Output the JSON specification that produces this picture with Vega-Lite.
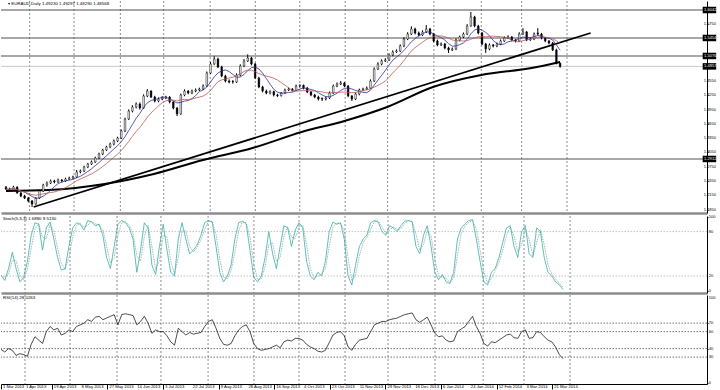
{
"$schema": "https://vega.github.io/schema/vega-lite/v6.json",
"padding": 0,
"background": "#ffffff",
"spacing": 0,
"config": {
  "view": {"stroke": null},
  "font": "Liberation Sans",
  "axis": {"labelFont": "Liberation Sans", "labelFontSize": 4.2, "labelColor": "#000000", "domainColor": "#000000", "tickColor": "#000000", "grid": false, "labelOverlap": false, "labelFlush": false},
  "text": {"font": "Liberation Sans"}
},
"datasets": {
  "px": [
{"i":0,"o":1.2320,"h":1.2345,"l":1.2260,"c":1.2282,"s":21,"r":39},
{"i":2,"o":1.2282,"h":1.2310,"l":1.2230,"c":1.2261,"s":14,"r":36},
{"i":4,"o":1.2261,"h":1.2350,"l":1.2245,"c":1.2323,"s":30,"r":40},
{"i":6,"o":1.2323,"h":1.2335,"l":1.2180,"c":1.2197,"s":52,"r":38},
{"i":8,"o":1.2197,"h":1.2220,"l":1.2110,"c":1.2134,"s":30,"r":32},
{"i":10,"o":1.2134,"h":1.2160,"l":1.2070,"c":1.2092,"s":12,"r":34},
{"i":12,"o":1.2092,"h":1.2115,"l":1.2000,"c":1.2029,"s":18,"r":33},
{"i":14,"o":1.2029,"h":1.2050,"l":1.1905,"c":1.1966,"s":40,"r":31},
{"i":16,"o":1.1966,"h":1.2110,"l":1.1950,"c":1.2092,"s":75,"r":45},
{"i":18,"o":1.2092,"h":1.2265,"l":1.2075,"c":1.2240,"s":92,"r":54},
{"i":20,"o":1.2240,"h":1.2390,"l":1.2220,"c":1.2365,"s":90,"r":50},
{"i":22,"o":1.2365,"h":1.2440,"l":1.2330,"c":1.2407,"s":55,"r":46},
{"i":24,"o":1.2407,"h":1.2480,"l":1.2385,"c":1.2450,"s":85,"r":60},
{"i":26,"o":1.2450,"h":1.2475,"l":1.2400,"c":1.2429,"s":93,"r":66},
{"i":28,"o":1.2429,"h":1.2500,"l":1.2410,"c":1.2471,"s":70,"r":62},
{"i":30,"o":1.2471,"h":1.2490,"l":1.2420,"c":1.2450,"s":45,"r":64},
{"i":32,"o":1.2450,"h":1.2520,"l":1.2430,"c":1.2492,"s":28,"r":56},
{"i":34,"o":1.2492,"h":1.2540,"l":1.2470,"c":1.2513,"s":30,"r":58},
{"i":36,"o":1.2513,"h":1.2560,"l":1.2490,"c":1.2534,"s":60,"r":62},
{"i":38,"o":1.2534,"h":1.2680,"l":1.2515,"c":1.2639,"s":85,"r":60},
{"i":40,"o":1.2639,"h":1.2690,"l":1.2610,"c":1.2660,"s":92,"r":66},
{"i":42,"o":1.2660,"h":1.2770,"l":1.2640,"c":1.2744,"s":90,"r":68},
{"i":44,"o":1.2744,"h":1.2830,"l":1.2720,"c":1.2807,"s":82,"r":70},
{"i":46,"o":1.2807,"h":1.2880,"l":1.2785,"c":1.2849,"s":95,"r":74},
{"i":48,"o":1.2849,"h":1.2960,"l":1.2830,"c":1.2933,"s":93,"r":72},
{"i":50,"o":1.2933,"h":1.3045,"l":1.2910,"c":1.3017,"s":88,"r":77},
{"i":52,"o":1.3017,"h":1.3125,"l":1.2995,"c":1.3101,"s":90,"r":78},
{"i":54,"o":1.3101,"h":1.3190,"l":1.3080,"c":1.3164,"s":75,"r":74},
{"i":56,"o":1.3164,"h":1.3255,"l":1.3140,"c":1.3227,"s":45,"r":76},
{"i":58,"o":1.3227,"h":1.3320,"l":1.3200,"c":1.3290,"s":30,"r":78},
{"i":60,"o":1.3290,"h":1.3380,"l":1.3265,"c":1.3353,"s":60,"r":80},
{"i":62,"o":1.3353,"h":1.3530,"l":1.3330,"c":1.3500,"s":90,"r":68},
{"i":64,"o":1.3500,"h":1.3780,"l":1.3480,"c":1.3752,"s":95,"r":80},
{"i":66,"o":1.3752,"h":1.3955,"l":1.3730,"c":1.3920,"s":92,"r":81},
{"i":68,"o":1.3920,"h":1.4040,"l":1.3890,"c":1.4004,"s":85,"r":80},
{"i":70,"o":1.4004,"h":1.4100,"l":1.3975,"c":1.4067,"s":70,"r":79},
{"i":72,"o":1.4067,"h":1.4100,"l":1.3950,"c":1.3983,"s":25,"r":68},
{"i":74,"o":1.3983,"h":1.4270,"l":1.3965,"c":1.4235,"s":55,"r":72},
{"i":76,"o":1.4235,"h":1.4380,"l":1.4210,"c":1.4340,"s":92,"r":78},
{"i":78,"o":1.4340,"h":1.4355,"l":1.4190,"c":1.4214,"s":85,"r":70},
{"i":80,"o":1.4214,"h":1.4240,"l":1.4100,"c":1.4130,"s":35,"r":58},
{"i":82,"o":1.4130,"h":1.4205,"l":1.4105,"c":1.4172,"s":22,"r":62},
{"i":84,"o":1.4172,"h":1.4230,"l":1.4145,"c":1.4193,"s":60,"r":60},
{"i":86,"o":1.4193,"h":1.4240,"l":1.4170,"c":1.4215,"s":90,"r":60},
{"i":88,"o":1.4215,"h":1.4230,"l":1.4080,"c":1.4109,"s":55,"r":55},
{"i":90,"o":1.4109,"h":1.4125,"l":1.3955,"c":1.3983,"s":25,"r":48},
{"i":92,"o":1.3983,"h":1.4000,"l":1.3815,"c":1.3857,"s":20,"r":44},
{"i":94,"o":1.3857,"h":1.4285,"l":1.3840,"c":1.4256,"s":70,"r":64},
{"i":96,"o":1.4256,"h":1.4375,"l":1.4230,"c":1.4340,"s":92,"r":60},
{"i":98,"o":1.4340,"h":1.4360,"l":1.4270,"c":1.4298,"s":70,"r":56},
{"i":100,"o":1.4298,"h":1.4370,"l":1.4275,"c":1.4340,"s":50,"r":59},
{"i":102,"o":1.4340,"h":1.4395,"l":1.4315,"c":1.4361,"s":55,"r":57},
{"i":104,"o":1.4361,"h":1.4410,"l":1.4340,"c":1.4382,"s":62,"r":58},
{"i":106,"o":1.4382,"h":1.4480,"l":1.4360,"c":1.4445,"s":75,"r":59},
{"i":108,"o":1.4445,"h":1.4750,"l":1.4425,"c":1.4718,"s":92,"r":66},
{"i":110,"o":1.4718,"h":1.4950,"l":1.4700,"c":1.4908,"s":95,"r":72},
{"i":112,"o":1.4908,"h":1.5070,"l":1.4890,"c":1.5013,"s":93,"r":74},
{"i":114,"o":1.5013,"h":1.5040,"l":1.4820,"c":1.4844,"s":60,"r":64},
{"i":116,"o":1.4844,"h":1.4870,"l":1.4630,"c":1.4655,"s":25,"r":52},
{"i":118,"o":1.4655,"h":1.4680,"l":1.4520,"c":1.4550,"s":12,"r":45},
{"i":120,"o":1.4550,"h":1.4585,"l":1.4500,"c":1.4529,"s":20,"r":44},
{"i":122,"o":1.4540,"h":1.4570,"l":1.4495,"c":1.4529,"s":35,"r":46},
{"i":124,"o":1.4529,"h":1.4710,"l":1.4510,"c":1.4676,"s":70,"r":55},
{"i":126,"o":1.4676,"h":1.4900,"l":1.4650,"c":1.4865,"s":92,"r":62},
{"i":128,"o":1.4865,"h":1.5010,"l":1.4840,"c":1.4971,"s":94,"r":66},
{"i":130,"o":1.4971,"h":1.5110,"l":1.4950,"c":1.5034,"s":90,"r":68},
{"i":132,"o":1.5034,"h":1.5060,"l":1.4880,"c":1.4908,"s":55,"r":60},
{"i":134,"o":1.4908,"h":1.4930,"l":1.4590,"c":1.4613,"s":18,"r":46},
{"i":136,"o":1.4613,"h":1.4640,"l":1.4400,"c":1.4424,"s":12,"r":40},
{"i":138,"o":1.4424,"h":1.4450,"l":1.4310,"c":1.4340,"s":20,"r":38},
{"i":140,"o":1.4340,"h":1.4370,"l":1.4270,"c":1.4298,"s":45,"r":39},
{"i":142,"o":1.4298,"h":1.4355,"l":1.4270,"c":1.4330,"s":80,"r":40},
{"i":144,"o":1.4330,"h":1.4345,"l":1.4225,"c":1.4256,"s":50,"r":42},
{"i":146,"o":1.4256,"h":1.4280,"l":1.4215,"c":1.4240,"s":30,"r":44},
{"i":148,"o":1.4240,"h":1.4320,"l":1.4225,"c":1.4298,"s":60,"r":41},
{"i":150,"o":1.4298,"h":1.4390,"l":1.4280,"c":1.4361,"s":88,"r":48},
{"i":152,"o":1.4361,"h":1.4415,"l":1.4340,"c":1.4382,"s":85,"r":50},
{"i":154,"o":1.4382,"h":1.4400,"l":1.4330,"c":1.4350,"s":60,"r":49},
{"i":156,"o":1.4350,"h":1.4475,"l":1.4340,"c":1.4445,"s":82,"r":52},
{"i":158,"o":1.4445,"h":1.4480,"l":1.4410,"c":1.4460,"s":92,"r":52},
{"i":160,"o":1.4460,"h":1.4475,"l":1.4375,"c":1.4403,"s":85,"r":50},
{"i":162,"o":1.4403,"h":1.4425,"l":1.4295,"c":1.4319,"s":40,"r":45},
{"i":164,"o":1.4319,"h":1.4340,"l":1.4230,"c":1.4256,"s":20,"r":42},
{"i":166,"o":1.4256,"h":1.4280,"l":1.4190,"c":1.4214,"s":15,"r":40},
{"i":168,"o":1.4214,"h":1.4240,"l":1.4140,"c":1.4172,"s":25,"r":37},
{"i":170,"o":1.4185,"h":1.4205,"l":1.4130,"c":1.4172,"s":20,"r":36},
{"i":172,"o":1.4172,"h":1.4225,"l":1.4140,"c":1.4193,"s":40,"r":38},
{"i":174,"o":1.4193,"h":1.4330,"l":1.4170,"c":1.4298,"s":80,"r":47},
{"i":176,"o":1.4298,"h":1.4475,"l":1.4280,"c":1.4445,"s":93,"r":56},
{"i":178,"o":1.4445,"h":1.4520,"l":1.4420,"c":1.4487,"s":90,"r":59},
{"i":180,"o":1.4487,"h":1.4550,"l":1.4465,"c":1.4508,"s":92,"r":60},
{"i":182,"o":1.4508,"h":1.4530,"l":1.4420,"c":1.4445,"s":70,"r":55},
{"i":184,"o":1.4445,"h":1.4465,"l":1.4210,"c":1.4235,"s":20,"r":42},
{"i":186,"o":1.4235,"h":1.4255,"l":1.4130,"c":1.4172,"s":8,"r":38},
{"i":188,"o":1.4172,"h":1.4305,"l":1.4150,"c":1.4277,"s":35,"r":45},
{"i":190,"o":1.4277,"h":1.4390,"l":1.4250,"c":1.4361,"s":60,"r":50},
{"i":192,"o":1.4361,"h":1.4410,"l":1.4340,"c":1.4382,"s":70,"r":51},
{"i":194,"o":1.4382,"h":1.4435,"l":1.4360,"c":1.4403,"s":75,"r":52},
{"i":196,"o":1.4403,"h":1.4585,"l":1.4385,"c":1.4550,"s":92,"r":60},
{"i":198,"o":1.4550,"h":1.4835,"l":1.4530,"c":1.4802,"s":95,"r":68},
{"i":200,"o":1.4802,"h":1.4945,"l":1.4780,"c":1.4908,"s":93,"r":70},
{"i":202,"o":1.4908,"h":1.5005,"l":1.4880,"c":1.4971,"s":80,"r":72},
{"i":204,"o":1.4971,"h":1.5030,"l":1.4950,"c":1.4992,"s":75,"r":72},
{"i":206,"o":1.4992,"h":1.5130,"l":1.4970,"c":1.5097,"s":88,"r":74},
{"i":208,"o":1.5097,"h":1.5195,"l":1.5070,"c":1.5160,"s":85,"r":75},
{"i":210,"o":1.5160,"h":1.5215,"l":1.5140,"c":1.5181,"s":80,"r":76},
{"i":212,"o":1.5181,"h":1.5320,"l":1.5160,"c":1.5286,"s":88,"r":78},
{"i":214,"o":1.5286,"h":1.5470,"l":1.5260,"c":1.5433,"s":94,"r":80},
{"i":216,"o":1.5433,"h":1.5575,"l":1.5410,"c":1.5538,"s":95,"r":81},
{"i":218,"o":1.5538,"h":1.5700,"l":1.5515,"c":1.5643,"s":93,"r":82},
{"i":220,"o":1.5643,"h":1.5670,"l":1.5530,"c":1.5559,"s":60,"r":74},
{"i":222,"o":1.5559,"h":1.5590,"l":1.5490,"c":1.5517,"s":50,"r":71},
{"i":224,"o":1.5517,"h":1.5615,"l":1.5495,"c":1.5580,"s":75,"r":74},
{"i":226,"o":1.5580,"h":1.5725,"l":1.5560,"c":1.5643,"s":88,"r":77},
{"i":228,"o":1.5643,"h":1.5665,"l":1.5510,"c":1.5538,"s":60,"r":68},
{"i":230,"o":1.5538,"h":1.5560,"l":1.5365,"c":1.5391,"s":25,"r":58},
{"i":232,"o":1.5391,"h":1.5420,"l":1.5280,"c":1.5307,"s":15,"r":54},
{"i":234,"o":1.5307,"h":1.5360,"l":1.5285,"c":1.5328,"s":22,"r":55},
{"i":236,"o":1.5328,"h":1.5350,"l":1.5215,"c":1.5244,"s":12,"r":50},
{"i":238,"o":1.5244,"h":1.5270,"l":1.5140,"c":1.5202,"s":10,"r":48},
{"i":240,"o":1.5202,"h":1.5255,"l":1.5180,"c":1.5223,"s":25,"r":49},
{"i":242,"o":1.5223,"h":1.5445,"l":1.5200,"c":1.5412,"s":70,"r":60},
{"i":244,"o":1.5412,"h":1.5505,"l":1.5385,"c":1.5475,"s":85,"r":63},
{"i":246,"o":1.5475,"h":1.5570,"l":1.5450,"c":1.5538,"s":90,"r":66},
{"i":248,"o":1.5538,"h":1.5745,"l":1.5515,"c":1.5706,"s":95,"r":72},
{"i":250,"o":1.5706,"h":1.6000,"l":1.5690,"c":1.5895,"s":96,"r":78},
{"i":252,"o":1.5895,"h":1.5920,"l":1.5680,"c":1.5706,"s":70,"r":66},
{"i":254,"o":1.5706,"h":1.5730,"l":1.5530,"c":1.5559,"s":40,"r":58},
{"i":256,"o":1.5559,"h":1.5580,"l":1.5300,"c":1.5328,"s":12,"r":46},
{"i":258,"o":1.5328,"h":1.5350,"l":1.5140,"c":1.5223,"s":8,"r":43},
{"i":260,"o":1.5223,"h":1.5340,"l":1.5195,"c":1.5307,"s":25,"r":48},
{"i":262,"o":1.5307,"h":1.5330,"l":1.5255,"c":1.5286,"s":30,"r":47},
{"i":264,"o":1.5286,"h":1.5360,"l":1.5260,"c":1.5328,"s":45,"r":50},
{"i":266,"o":1.5328,"h":1.5425,"l":1.5305,"c":1.5391,"s":65,"r":53},
{"i":268,"o":1.5391,"h":1.5485,"l":1.5370,"c":1.5454,"s":85,"r":56},
{"i":270,"o":1.5454,"h":1.5510,"l":1.5430,"c":1.5475,"s":88,"r":57},
{"i":272,"o":1.5475,"h":1.5495,"l":1.5385,"c":1.5412,"s":60,"r":53},
{"i":274,"o":1.5412,"h":1.5430,"l":1.5360,"c":1.5391,"s":45,"r":52},
{"i":276,"o":1.5391,"h":1.5575,"l":1.5370,"c":1.5538,"s":80,"r":60},
{"i":278,"o":1.5538,"h":1.5660,"l":1.5515,"c":1.5580,"s":88,"r":62},
{"i":280,"o":1.5580,"h":1.5600,"l":1.5390,"c":1.5412,"s":50,"r":52},
{"i":282,"o":1.5412,"h":1.5465,"l":1.5395,"c":1.5433,"s":45,"r":53},
{"i":284,"o":1.5433,"h":1.5570,"l":1.5410,"c":1.5538,"s":85,"r":60},
{"i":286,"o":1.5560,"h":1.5660,"l":1.5505,"c":1.5538,"s":80,"r":59},
{"i":288,"o":1.5538,"h":1.5560,"l":1.5425,"c":1.5454,"s":45,"r":54},
{"i":290,"o":1.5454,"h":1.5475,"l":1.5365,"c":1.5391,"s":25,"r":50},
{"i":292,"o":1.5391,"h":1.5410,"l":1.5320,"c":1.5349,"s":20,"r":48},
{"i":294,"o":1.5349,"h":1.5370,"l":1.5180,"c":1.5202,"s":12,"r":42},
{"i":296,"o":1.5202,"h":1.5230,"l":1.4900,"c":1.4923,"s":8,"r":33},
{"i":298,"o":1.4923,"h":1.4930,"l":1.4829,"c":1.4857,"s":1.7,"r":28}
  ],
  "sma200": [
{"i":0,"v":1.2240},{"i":22.8,"v":1.2261},{"i":53,"v":1.2387},{"i":79.5,"v":1.2597},{"i":106,"v":1.2891},{"i":132.6,"v":1.3143},{"i":159,"v":1.3479},{"i":182,"v":1.3710},{"i":205,"v":1.4004},{"i":229.6,"v":1.4424},{"i":255.6,"v":1.4676},{"i":282.6,"v":1.4823},{"i":298,"v":1.4950}
  ],
  "trend": [{"i":14.85,"v":1.1903},{"i":314.4,"v":1.5559}],
  "levels": [{"p":1.6042},{"p":1.5454},{"p":1.5076},{"p":1.2912}],
  "bid": [{"p":1.4857}],
  "tags": [{"p":1.6042,"t":"1.6042"},{"p":1.5454,"t":"1.5454"},{"p":1.5076,"t":"1.5076"},{"p":1.4857,"t":"1.4857"},{"p":1.2912,"t":"1.2912"}],
  "plab": [{"p":1.5750,"t":"1.5750"},{"p":1.4550,"t":"1.4550"},{"p":1.4250,"t":"1.4250"},{"p":1.3950,"t":"1.3950"},{"p":1.3650,"t":"1.3650"},{"p":1.3350,"t":"1.3350"},{"p":1.3050,"t":"1.3050"},{"p":1.2750,"t":"1.2750"},{"p":1.2450,"t":"1.2450"},{"p":1.2150,"t":"1.2150"},{"p":1.1850,"t":"1.1850"}],
  "slab": [{"v":100,"t":"100"},{"v":80,"t":"80"},{"v":20,"t":"20"},{"v":0,"t":"0"}],
  "rlab": [{"v":100,"t":"100"},{"v":70,"t":"70"},{"v":60,"t":"60"},{"v":40,"t":"40"},{"v":30,"t":"30"},{"v":0,"t":"0"}],
  "dlab": [{"i":0,"t":"1 Mar 2013"},{"i":12.2,"t":"1 Apr 2013"},{"i":26.94,"t":"19 Apr 2013"},{"i":41.68,"t":"8 May 2013"},{"i":56.42,"t":"27 May 2013"},{"i":71.16,"t":"14 Jun 2013"},{"i":85.9,"t":"3 Jul 2013"},{"i":100.64,"t":"22 Jul 2013"},{"i":115.38,"t":"9 Aug 2013"},{"i":130.12,"t":"28 Aug 2013"},{"i":144.86,"t":"16 Sep 2013"},{"i":159.6,"t":"4 Oct 2013"},{"i":174.34,"t":"23 Oct 2013"},{"i":189.08,"t":"11 Nov 2013"},{"i":203.82,"t":"29 Nov 2013"},{"i":218.56,"t":"18 Dec 2013"},{"i":233.3,"t":"6 Jan 2014"},{"i":248.04,"t":"24 Jan 2014"},{"i":262.78,"t":"12 Feb 2014"},{"i":277.52,"t":"3 Mar 2014"},{"i":292.26,"t":"21 Mar 2014"}],
  "grid": [{"i":12.7},{"i":36.6},{"i":61.5},{"i":84.8},{"i":109.8},{"i":134.1},{"i":158},{"i":182.4},{"i":205.2},{"i":230.1},{"i":255.6},{"i":277.3},{"i":301.7}]
},
"vconcat": [
{
  "width": 706, "height": 212,
  "layer": [
    {"data": {"name": "grid"}, "mark": {"type": "rule", "color": "#707070", "strokeDash": [2, 2], "strokeWidth": 0.8},
     "encoding": {"x": {"field": "i", "type": "quantitative", "title": null, "scale": {"domain": [0, 374.3], "nice": false, "zero": false},
       "axis": {"orient": "bottom", "labels": false, "ticks": false, "grid": false, "domain": true, "domainColor": "#8c8c8c", "domainWidth": 2.5, "title": null}}}},
    {"data": {"name": "levels"}, "mark": {"type": "rule", "color": "#505050", "strokeWidth": 1.1},
     "encoding": {"y": {"field": "p", "type": "quantitative", "title": null, "scale": {"domain": [1.1777, 1.6231], "nice": false, "zero": false},
       "axis": {"orient": "right", "values": [1.5750, 1.4550, 1.4250, 1.3950, 1.3650, 1.3350, 1.3050, 1.2750, 1.2450, 1.2150, 1.1850], "labels": false, "tickSize": 1, "grid": false, "domain": true, "title": null}}}},
    {"data": {"name": "bid"}, "mark": {"type": "rule", "color": "#c8c8c8", "strokeWidth": 1},
     "encoding": {"y": {"field": "p", "type": "quantitative", "title": null}}},
    {"data": {"name": "sma200"}, "mark": {"type": "line", "color": "#000000", "strokeWidth": 2, "interpolate": "monotone", "clip": true},
     "encoding": {"x": {"field": "i", "type": "quantitative", "title": null}, "y": {"field": "v", "type": "quantitative", "title": null}}},
    {"data": {"name": "trend"}, "mark": {"type": "line", "color": "#000000", "strokeWidth": 1.8, "clip": true},
     "encoding": {"x": {"field": "i", "type": "quantitative", "title": null}, "y": {"field": "v", "type": "quantitative", "title": null}}},
    {"data": {"name": "px"}, "mark": {"type": "rule", "color": "#000000", "strokeWidth": 1, "clip": true},
     "encoding": {"x": {"field": "i", "type": "quantitative", "title": null}, "y": {"field": "l", "type": "quantitative", "title": null}, "y2": {"field": "h"}}},
    {"data": {"name": "px"}, "mark": {"type": "bar", "width": 1.6, "stroke": "#000000", "strokeWidth": 0.5, "clip": true},
     "encoding": {"x": {"field": "i", "type": "quantitative", "title": null}, "y": {"field": "o", "type": "quantitative", "title": null}, "y2": {"field": "c"},
       "fill": {"condition": {"test": "datum.c >= datum.o", "value": "#ffffff"}, "value": "#000000"}}},
    {"data": {"name": "px"}, "transform": [{"window": [{"op": "mean", "field": "c", "as": "ma1"}], "frame": [-5, 0], "sort": [{"field": "i", "order": "ascending"}]}],
     "mark": {"type": "line", "color": "#2e2ea0", "strokeWidth": 0.8, "clip": true},
     "encoding": {"x": {"field": "i", "type": "quantitative", "title": null}, "y": {"field": "ma1", "type": "quantitative", "title": null}}},
    {"data": {"name": "px"}, "transform": [{"window": [{"op": "mean", "field": "c", "as": "ma2"}], "frame": [-10, 0], "sort": [{"field": "i", "order": "ascending"}]}],
     "mark": {"type": "line", "color": "#b85a50", "strokeWidth": 0.8, "clip": true},
     "encoding": {"x": {"field": "i", "type": "quantitative", "title": null}, "y": {"field": "ma2", "type": "quantitative", "title": null}}},
    {"data": {"name": "plab"}, "mark": {"type": "text", "color": "#000000", "align": "left", "baseline": "middle", "fontSize": 4, "dx": 1.8},
     "encoding": {"x": {"datum": 374.3, "type": "quantitative"}, "y": {"field": "p", "type": "quantitative", "title": null}, "text": {"field": "t"}}},
    {"data": {"name": "tags"}, "mark": {"type": "tick", "orient": "horizontal", "color": "#000000", "size": 13.5, "thickness": 6.5, "opacity": 1},
     "encoding": {"x": {"datum": 378.3, "type": "quantitative"}, "y": {"field": "p", "type": "quantitative", "title": null}}},
    {"data": {"name": "tags"}, "mark": {"type": "text", "color": "#ffffff", "align": "left", "baseline": "middle", "fontSize": 4, "dx": 1},
     "encoding": {"x": {"datum": 374.9, "type": "quantitative"}, "y": {"field": "p", "type": "quantitative", "title": null}, "text": {"field": "t"}}},
    {"data": {"values": [{"t": "\u25be EURAUD,Daily  1.49230 1.49297 1.48290 1.48568"}]}, "mark": {"type": "text", "color": "#000000", "align": "left", "baseline": "top", "fontSize": 4.4, "dx": 2, "dy": 1},
     "encoding": {"x": {"datum": 0, "type": "quantitative"}, "y": {"datum": 1.6231, "type": "quantitative"}, "text": {"field": "t"}}}
  ]
},
{
  "width": 706, "height": 77,
  "layer": [
    {"data": {"name": "grid"}, "mark": {"type": "rule", "color": "#707070", "strokeDash": [2, 2], "strokeWidth": 0.8},
     "encoding": {"x": {"field": "i", "type": "quantitative", "title": null, "scale": {"domain": [0, 374.3], "nice": false, "zero": false},
       "axis": {"orient": "bottom", "labels": false, "ticks": false, "grid": false, "domain": true, "domainColor": "#8c8c8c", "domainWidth": 2.5, "title": null}}}},
    {"data": {"values": [{"v": 80}, {"v": 20}]}, "mark": {"type": "rule", "color": "#b4b4b4", "strokeDash": [1.5, 1.5], "strokeWidth": 0.8},
     "encoding": {"y": {"field": "v", "type": "quantitative", "title": null, "scale": {"domain": [-3.0, 101.1], "nice": false, "zero": false},
       "axis": {"orient": "right", "values": [0, 20, 80, 100], "labels": false, "tickSize": 1, "grid": false, "domain": true, "title": null}}}},
    {"data": {"name": "px"}, "transform": [{"window": [{"op": "mean", "field": "s", "as": "sg"}], "frame": [-1, 0], "sort": [{"field": "i", "order": "ascending"}]}],
     "mark": {"type": "line", "color": "#8aa6a6", "strokeDash": [1.5, 1], "strokeWidth": 0.8, "clip": true},
     "encoding": {"x": {"field": "i", "type": "quantitative", "title": null}, "y": {"field": "sg", "type": "quantitative", "title": null}}},
    {"data": {"name": "px"}, "mark": {"type": "line", "color": "#3aaea4", "strokeWidth": 0.8, "clip": true},
     "encoding": {"x": {"field": "i", "type": "quantitative", "title": null}, "y": {"field": "s", "type": "quantitative", "title": null}}},
    {"data": {"name": "slab"}, "mark": {"type": "text", "color": "#000000", "align": "left", "baseline": "middle", "fontSize": 4, "dx": 1.8},
     "encoding": {"x": {"datum": 374.3, "type": "quantitative"}, "y": {"field": "v", "type": "quantitative", "title": null}, "text": {"field": "t"}}},
    {"data": {"values": [{"t": "Stoch(5,3,3) 1.6880 9.5130"}]}, "mark": {"type": "text", "color": "#000000", "align": "left", "baseline": "top", "fontSize": 4.4, "dx": 2, "dy": 1},
     "encoding": {"x": {"datum": 0, "type": "quantitative"}, "y": {"datum": 101.1, "type": "quantitative"}, "text": {"field": "t"}}}
  ]
},
{
  "width": 706, "height": 89,
  "layer": [
    {"data": {"name": "grid"}, "mark": {"type": "rule", "color": "#707070", "strokeDash": [2, 2], "strokeWidth": 0.8},
     "encoding": {"x": {"field": "i", "type": "quantitative", "title": null, "scale": {"domain": [0, 374.3], "nice": false, "zero": false},
       "axis": {"orient": "bottom", "values": [0, 12.2, 26.94, 41.68, 56.42, 71.16, 85.9, 100.64, 115.38, 130.12, 144.86, 159.6, 174.34, 189.08, 203.82, 218.56, 233.3, 248.04, 262.78, 277.52, 292.26],
         "labels": false, "tickSize": 5, "domain": true, "grid": false, "title": null}}}},
    {"data": {"values": [{"v": 70}, {"v": 60}, {"v": 40}, {"v": 30}]}, "mark": {"type": "rule", "color": "#505050", "strokeDash": [1.5, 1.5], "strokeWidth": 0.8},
     "encoding": {"y": {"field": "v", "type": "quantitative", "title": null, "scale": {"domain": [-1.65, 103.1], "nice": false, "zero": false},
       "axis": {"orient": "right", "values": [0, 30, 40, 60, 70, 100], "labels": false, "tickSize": 1, "grid": false, "domain": true, "title": null}}}},
    {"data": {"name": "px"}, "mark": {"type": "line", "color": "#202020", "strokeWidth": 0.8, "clip": true},
     "encoding": {"x": {"field": "i", "type": "quantitative", "title": null}, "y": {"field": "r", "type": "quantitative", "title": null}}},
    {"data": {"name": "rlab"}, "mark": {"type": "text", "color": "#000000", "align": "left", "baseline": "middle", "fontSize": 4, "dx": 1.8},
     "encoding": {"x": {"datum": 374.3, "type": "quantitative"}, "y": {"field": "v", "type": "quantitative", "title": null}, "text": {"field": "t"}}},
    {"data": {"name": "dlab"}, "mark": {"type": "text", "color": "#000000", "align": "left", "baseline": "top", "fontSize": 4.2, "dx": 2, "dy": 1.2},
     "encoding": {"x": {"field": "i", "type": "quantitative", "title": null}, "y": {"datum": -1.65, "type": "quantitative"}, "text": {"field": "t"}}},
    {"data": {"values": [{"t": "RSI(14) 28.0263"}]}, "mark": {"type": "text", "color": "#000000", "align": "left", "baseline": "top", "fontSize": 4.4, "dx": 2, "dy": 1},
     "encoding": {"x": {"datum": 0, "type": "quantitative"}, "y": {"datum": 103.1, "type": "quantitative"}, "text": {"field": "t"}}}
  ]
}
]
}
